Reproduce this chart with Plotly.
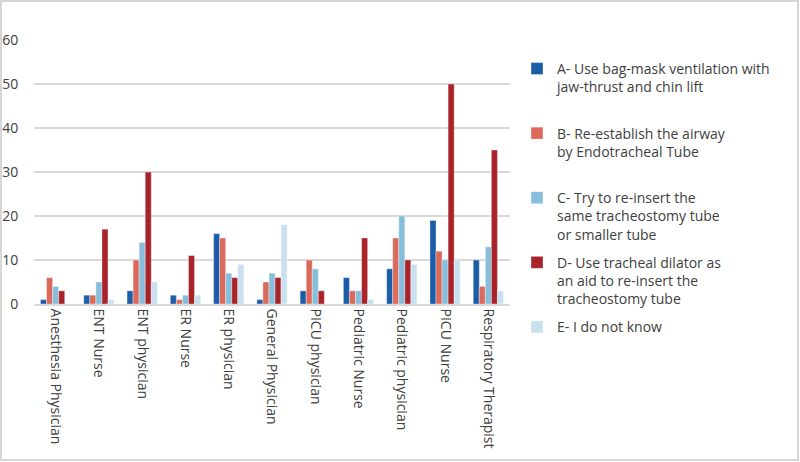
import plotly.graph_objects as go

categories = ["Anesthesia Physician", "ENT Nurse", "ENT physician", "ER Nurse", "ER physician",
              "General Physician", "PICU physician", "Pediatric Nurse", "Pediatric physician",
              "PICU Nurse", "Respiratory Therapist"]

series_names = [
    "A- Use bag-mask ventilation with<br>jaw-thrust and chin lift<br> ",
    "B- Re-establish the airway<br>by Endotracheal Tube<br> ",
    "C- Try to re-insert the<br>same tracheostomy tube<br>or smaller tube",
    "D- Use tracheal dilator as<br>an aid to re-insert the<br>tracheostomy tube",
    "E- I do not know",
]

vals_a = [1, 2, 3, 2, 16, 1, 3, 6, 8, 19, 10]
vals_b = [6, 2, 10, 1, 15, 5, 10, 3, 15, 12, 4]
vals_c = [4, 5, 14, 2, 7, 7, 8, 3, 20, 10, 13]
vals_d = [3, 17, 30, 11, 6, 6, 3, 15, 10, 50, 35]
vals_e = [0, 1, 5, 2, 9, 18, 0, 1, 9, 10, 3]

colors = ["#1c5da8", "#dc6a5c", "#87bedc", "#a8232a", "#c8e0ef"]

W, H = 800, 462
ML, MR, MT, MB = 34, 290, 40, 158
PW, PH = W - ML - MR, H - MT - MB

fig = go.Figure()
for i, (name, vals) in enumerate(zip(series_names, [vals_a, vals_b, vals_c, vals_d, vals_e])):
    fig.add_trace(go.Bar(
        x=categories, y=vals, name=name, legendgroup=str(i),
        marker=dict(color=colors[i], line=dict(color="rgba(255,255,255,0.6)", width=0.6)),
    ))

font = dict(family="Open Sans, Segoe UI, sans-serif", size=13, color="#404040")

fig.update_layout(
    width=W, height=H,
    margin=dict(l=ML, r=MR, t=MT, b=MB),
    paper_bgcolor="white", plot_bgcolor="white",
    barmode="group", bargap=0.3, bargroupgap=0.0,
    font=font,
    showlegend=True,
    legend=dict(x=1 + 7 / PW, y=0.951, xanchor="left", yanchor="top", valign="top",
                tracegroupgap=7, font=dict(size=14, color="#404040"),
                itemwidth=30, bgcolor="rgba(0,0,0,0)", maxheight=400),
    xaxis=dict(tickangle=90, showgrid=False, showline=True, linecolor="#d9d9d9", linewidth=1.5,
               ticks="", tickfont=dict(size=14, color="#404040"), automargin=False),
    yaxis=dict(range=[0, 60], dtick=10, showgrid=True, gridcolor="#d9d9d9", gridwidth=1.5,
               zeroline=False, showline=False, ticks="outside", ticklen=12,
               tickcolor="rgba(0,0,0,0)", automargin=False,
               tickfont=dict(size=14, color="#404040")),
    shapes=[dict(type="rect", xref="paper", yref="paper",
                 x0=(1 - ML) / PW, x1=(798 - ML) / PW,
                 y0=(H - MB - 460) / PH, y1=(H - MB - 1) / PH,
                 line=dict(color="#d6d6d6", width=2), fillcolor="rgba(0,0,0,0)", layer="below")],
)

fig.write_html("out.html")
